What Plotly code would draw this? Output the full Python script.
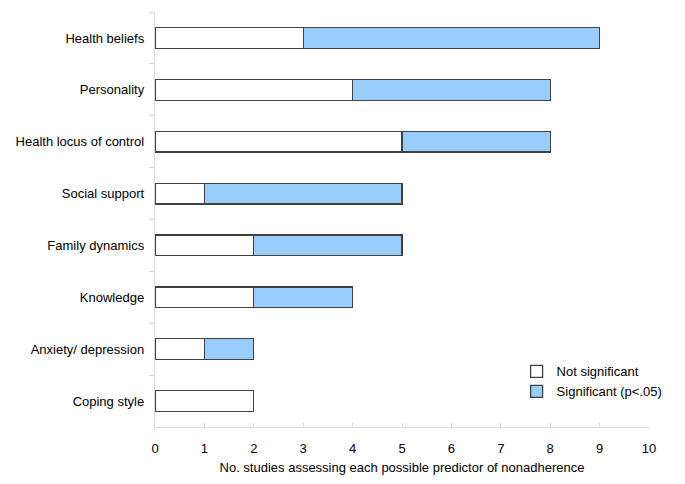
import plotly.graph_objects as go

# 数据：各预测因素的研究数量（从上到下）
categories = ["Health beliefs", "Personality", "Health locus of control", "Social support",
              "Family dynamics", "Knowledge", "Anxiety/ depression", "Coping style"]
not_significant = [3, 4, 5, 1, 2, 2, 1, 2]
significant = [6, 4, 3, 4, 3, 2, 1, 0]

fig = go.Figure()
fig.add_trace(go.Bar(
    y=categories, x=not_significant, orientation="h", name="Not significant",
    marker=dict(color="white", line=dict(color="#404040", width=1.3)),
))
fig.add_trace(go.Bar(
    y=categories, x=significant, orientation="h", name="Significant (p<.05)",
    marker=dict(color="#99CCFF", line=dict(color="#404040", width=1.3)),
))

# 页面body默认有8px边距，这里相应缩小画布
fig.update_layout(
    barmode="stack",
    bargap=0.6,
    width=677, height=476,
    margin=dict(l=147, r=36, t=4, b=57),
    plot_bgcolor="white", paper_bgcolor="white",
    font=dict(family="Liberation Sans, Arial, sans-serif", size=13, color="black"),
    showlegend=True,
    legend=dict(x=0.732, y=0.17, xanchor="left", yanchor="top",
                traceorder="normal", bgcolor="rgba(0,0,0,0)",
                font=dict(size=13), itemwidth=30, tracegroupgap=0),
)
fig.update_xaxes(
    range=[0, 10], dtick=1, showgrid=False, zeroline=False,
    showline=True, linecolor="#d9d9d9", linewidth=1,
    ticks="inside", ticklen=4, tickcolor="#d9d9d9",
    tickfont=dict(size=13), ticklabelstandoff=9,
    title=dict(text="No. studies assessing each possible predictor of nonadherence",
               font=dict(size=13), standoff=8),
)
fig.update_yaxes(
    autorange="reversed", showgrid=False, zeroline=False,
    showline=True, linecolor="#d9d9d9", linewidth=1,
    ticks="outside", ticklen=5, tickcolor="#d9d9d9", tickson="boundaries",
    tickfont=dict(size=13), ticksuffix="  ",
)

fig.write_html("out.html")
